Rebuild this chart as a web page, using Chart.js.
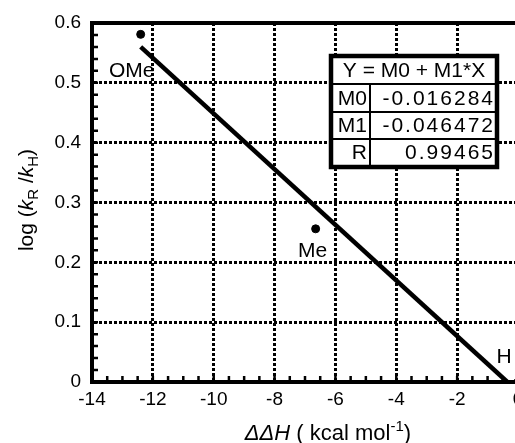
<!DOCTYPE html>
<html>
<head>
<meta charset="utf-8">
<script src="https://cdn.jsdelivr.net/npm/chart.js@4.4.0/dist/chart.umd.min.js"></script>
<style>
    html, body { margin: 0; padding: 0; background: #fff; overflow: hidden; }
    #wrap { width: 515px; height: 443px; overflow: hidden; position: relative; }
    #chart { position: absolute; left: 0; top: 0; }
</style>
</head>
<body>
<div id="wrap"><canvas id="chart" width="540" height="443"></canvas></div>
<script>
// Data
const pointNames = ['OMe', 'Me', 'H'];
const pointX = [-12.4, -6.65, 0];
const pointY = [0.581, 0.256, 0];

// Fitted line as drawn (end points)
const fitX = [-12.4, -0.35];
const fitY = [0.560, 0];

// Fit table
const fitHeader = 'Y = M0 + M1*X';
const fitNames = ['M0', 'M1', 'R'];
const fitValues = ['-0.016284', '-0.046472', '0.99465'];

// Axis ticks
const xTicks = [-14, -12, -10, -8, -6, -4, -2, 0];
const yTicks = [0, 0.1, 0.2, 0.3, 0.4, 0.5, 0.6];
const xMinorStep = 0.5;
const yMinorStep = 0.02;

const FONT = '"Liberation Sans", Arial, Helvetica, sans-serif';

// frame top edge + small inward minor ticks
const framePlugin = {
    id: 'frame',
    afterDatasetsDraw(chart) {
        const {ctx, chartArea: a, scales: {x, y}} = chart;
        ctx.save();
        ctx.strokeStyle = '#000';
        ctx.lineWidth = 4;
        ctx.beginPath();
        ctx.moveTo(a.left - 2, a.top);
        ctx.lineTo(a.right, a.top);
        ctx.stroke();

        ctx.lineWidth = 2.5;
        ctx.beginPath();
        for (let v = xTicks[0]; v <= xTicks[xTicks.length - 1] + 1e-9; v += xMinorStep) {
            const px = x.getPixelForValue(v);
            ctx.moveTo(px, a.bottom);
            ctx.lineTo(px, a.bottom - 6);
        }
        for (let v = yTicks[0]; v <= yTicks[yTicks.length - 1] + 1e-9; v += yMinorStep) {
            const py = y.getPixelForValue(v);
            ctx.moveTo(a.left, py);
            ctx.lineTo(a.left + 6, py);
        }
        ctx.stroke();
        ctx.restore();
    }
};

// labels next to points
const labelOffsets = [[-9, 37], [-3, 22], [-14, -25]];
const pointLabelPlugin = {
    id: 'pointLabels',
    afterDatasetsDraw(chart) {
        const {ctx, scales: {x, y}} = chart;
        ctx.save();
        ctx.font = '21px ' + FONT;
        ctx.fillStyle = '#000';
        ctx.textAlign = 'center';
        ctx.textBaseline = 'middle';
        pointNames.forEach((name, i) => {
            const px = x.getPixelForValue(pointX[i]) + labelOffsets[i][0];
            const py = y.getPixelForValue(pointY[i]) + labelOffsets[i][1];
            ctx.fillText(name, px, py);
        });
        ctx.restore();
    }
};

// text runs: [text, font, dy]
function drawRuns(ctx, runs, cx, cy) {
    let total = 0;
    runs.forEach(r => { ctx.font = r[1]; total += ctx.measureText(r[0]).width; });
    let xx = cx - total / 2;
    runs.forEach(r => {
        ctx.font = r[1];
        ctx.fillText(r[0], xx, cy + r[2]);
        xx += ctx.measureText(r[0]).width;
    });
}

const titlePlugin = {
    id: 'titles',
    afterDraw(chart) {
        const {ctx} = chart;
        const n = '22px ' + FONT, it = 'italic 22px ' + FONT, sm = '15px ' + FONT;
        ctx.save();
        ctx.fillStyle = '#000';
        ctx.textBaseline = 'alphabetic';
        ctx.textAlign = 'left';
        drawRuns(ctx, [
            ['ΔΔH', it, 0], [' ( kcal mol', n, 0], ['-1', sm, -9], [')', n, 0]
        ], 328, 440);

        const ny = '21px ' + FONT, iy = 'italic 21px ' + FONT, sy = '15px ' + FONT;
        ctx.translate(33, 200);
        ctx.rotate(-Math.PI / 2);
        drawRuns(ctx, [
            ['log (', ny, 0], ['k', iy, 0], ['R', sy, 5], [' /', ny, 0],
            ['k', iy, 0], ['H', sy, 5], [')', ny, 0]
        ], 0, 0);
        ctx.restore();
    }
};

const tablePlugin = {
    id: 'fitTable',
    afterDraw(chart) {
        const {ctx} = chart;
        const left = 331, right = 497, top = 56, bottom = 167, col = 370;
        const rows = [84, 112, 139];
        ctx.save();
        ctx.fillStyle = '#fff';
        ctx.fillRect(left, top, right - left, bottom - top);
        ctx.strokeStyle = '#000';
        ctx.lineWidth = 2;
        ctx.beginPath();
        rows.forEach(r => { ctx.moveTo(left, r); ctx.lineTo(right, r); });
        ctx.moveTo(col, rows[0]);
        ctx.lineTo(col, bottom);
        ctx.stroke();
        ctx.lineWidth = 4.5;
        ctx.strokeRect(left, top, right - left, bottom - top);

        ctx.fillStyle = '#000';
        ctx.font = '21px ' + FONT;
        ctx.textBaseline = 'alphabetic';
        ctx.textAlign = 'center';
        ctx.fillText(fitHeader, (left + right) / 2, 77);
        const bases = [105, 132, 159];
        fitNames.forEach((nm, i) => {
            ctx.textAlign = 'right';
            ctx.letterSpacing = '0px';
            ctx.fillText(nm, col - 3, bases[i]);
            ctx.letterSpacing = '2px';
            ctx.fillText(fitValues[i], right - 2, bases[i]);
        });
        ctx.restore();
    }
};

const ctx = document.getElementById('chart').getContext('2d');
new Chart(ctx, {
    type: 'scatter',
    data: {
        datasets: [{
            label: 'fit',
            data: fitX.map((v, i) => ({x: v, y: fitY[i]})),
            showLine: true,
            borderColor: '#000',
            borderWidth: 4.5,
            pointRadius: 0,
            fill: false
        }, {
            label: 'points',
            data: pointX.map((v, i) => ({x: v, y: pointY[i]})),
            backgroundColor: '#000',
            borderColor: '#000',
            pointRadius: 4,
            pointHoverRadius: 4
        }]
    },
    options: {
        responsive: false,
        devicePixelRatio: 1,
        animation: false,
        events: [],
        layout: { padding: { top: 23, right: 22, left: 0, bottom: 0 } },
        plugins: {
            legend: { display: false },
            tooltip: { enabled: false }
        },
        scales: {
            x: {
                type: 'linear',
                min: -14,
                max: 0,
                afterBuildTicks: s => { s.ticks = xTicks.map(v => ({value: v})); },
                afterFit: s => { s.height = 61; },
                ticks: {
                    color: '#000',
                    font: { size: 19, family: FONT },
                    padding: 6,
                    maxRotation: 0
                },
                grid: { color: '#000', lineWidth: 3, drawTicks: false },
                border: { display: true, color: '#000', width: 4, dash: [3, 2] }
            },
            y: {
                type: 'linear',
                min: 0,
                max: 0.6,
                afterBuildTicks: s => { s.ticks = yTicks.map(v => ({value: v})); },
                afterFit: s => { s.width = 92; },
                ticks: {
                    color: '#000',
                    font: { size: 19, family: FONT },
                    padding: 11,
                    callback: v => String(Math.round(v * 10) / 10)
                },
                grid: { color: '#000', lineWidth: 3, drawTicks: false },
                border: { display: true, color: '#000', width: 4, dash: [3, 2] }
            }
        }
    },
    plugins: [framePlugin, pointLabelPlugin, titlePlugin, tablePlugin]
});
</script>
</body>
</html>
